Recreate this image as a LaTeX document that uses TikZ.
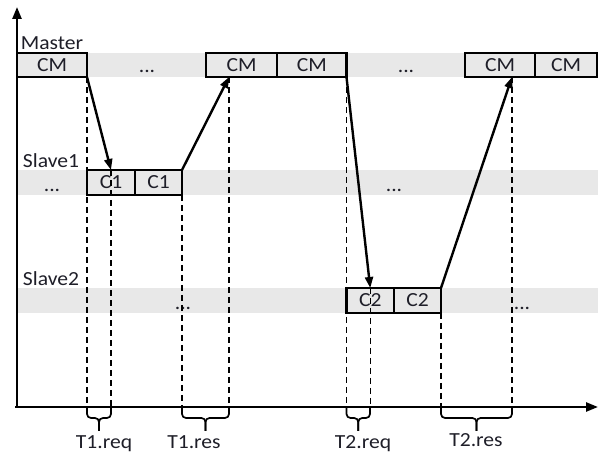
\documentclass[tikz,border=0pt]{standalone}
\usepackage{fontspec}
\setmainfont{Carlito}[FakeStretch=1.08]
\usetikzlibrary{arrows.meta}
\definecolor{bandgray}{RGB}{232,232,232}
\definecolor{ink}{RGB}{30,30,40}
\begin{document}
\begin{tikzpicture}[x=1pt,y=-1pt,
  lbl/.style={text=ink, inner sep=0pt, anchor=base, font=\fontsize{20}{20}\selectfont},
  cell/.style={draw, line width=2.2pt, fill=bandgray, anchor=north west,
    inner sep=0pt, outer sep=0pt, text=ink, font=\fontsize{20}{20}\selectfont},
  mcell/.style={cell, minimum height=24pt},
  scell/.style={cell, minimum height=25pt},
  guide/.style={line width=1.5pt, dash pattern=on 6pt off 4pt},
  msg/.style={line width=2.4pt, -{Triangle[length=11pt,width=8pt]}},
  axis/.style={line width=2.4pt, -{Triangle[length=12pt,width=9pt]}},
  brace/.style={line width=1.7pt, rounded corners=4pt}
]
\useasboundingbox (0,0) rectangle (598,457);

% lanes
\fill[bandgray] (17,53) rectangle (598,77);
\fill[bandgray] (17,170) rectangle (598,195);
\fill[bandgray] (17,288) rectangle (598,313);

% axes
\coordinate (o) at (17,407);
\draw[axis] (15,407) -- (598,407);
\draw[axis] (17,408) -- (17,7);

% lane labels
\node[lbl] (lmaster) at (52,50) {Master};
\node[lbl] (lslave1) at (51,168) {Slave1};
\node[lbl] (lslave2) at (51,286) {Slave2};

% master slots
\node[mcell, minimum width=70pt] (m1) at (17,53) {CM};
\node[mcell, minimum width=71pt] (m2) at (206,53) {CM};
\node[mcell, minimum width=69.5pt] (m3) at (277,53) {CM};
\node[mcell, minimum width=70pt] (m4) at (465,53) {CM};
\node[mcell, minimum width=62pt] (m5) at (535,53) {CM};

% slave slots
\node[scell, minimum width=48pt] (c1a) at (87,170) {C1};
\node[scell, minimum width=47pt] (c1b) at (135,170) {C1};
\node[scell, minimum width=47.5pt] (c2a) at (346.5,288) {C2};
\node[scell, minimum width=47pt] (c2b) at (394,288) {C2};

% idle gaps
\node[lbl] (d1) at (147,73) {...};
\node[lbl] (d2) at (406,73) {...};
\node[lbl] (d3) at (52,192) {...};
\node[lbl] (d4) at (394,192) {...};
\node[lbl] (d5) at (183,310) {...};
\node[lbl] (d6) at (522,310) {...};

% response targets on the master lane
\coordinate (r1) at (229,77);
\coordinate (r2) at (512,77);

% timing guides
\draw[guide] (m1.south east) -- (m1.south east |- o);
\draw[guide] (c1a.north) -- (c1a.north |- o);
\draw[guide] (c1b.south east) -- (c1b.south east |- o);
\draw[guide] (r1) -- (r1 |- o);
\draw[guide] (m3.south east) -- (m3.south east |- o);
\draw[guide] (c2a.north) -- (c2a.north |- o);
\draw[guide] (c2b.south east) -- (c2b.south east |- o);
\draw[guide] (r2) -- (r2 |- o);

% messages
\draw[msg] (m1.south east) -- (c1a.north);
\draw[msg] (c1b.north east) -- (r1);
\draw[msg] (m3.south east) -- (c2a.north);
\draw[msg] (c2b.north east) -- (r2);

% interval braces
\foreach \a/\b in {87/111, 182/229, 346.5/370, 441/512}{
  \pgfmathsetmacro{\mid}{(\a+\b)/2}
  \draw[brace] (\a,408) -- (\a,418) -- (\mid,418) -- (\mid,431);
  \draw[brace] (\b,408) -- (\b,418) -- (\mid,418) -- (\mid,431);
}
\node[lbl] (t1q) at (104,449) {T1.req};
\node[lbl] (t1s) at (194,449) {T1.res};
\node[lbl] (t2q) at (363,449) {T2.req};
\node[lbl] (t2s) at (476,447) {T2.res};
\end{tikzpicture}
\end{document}
